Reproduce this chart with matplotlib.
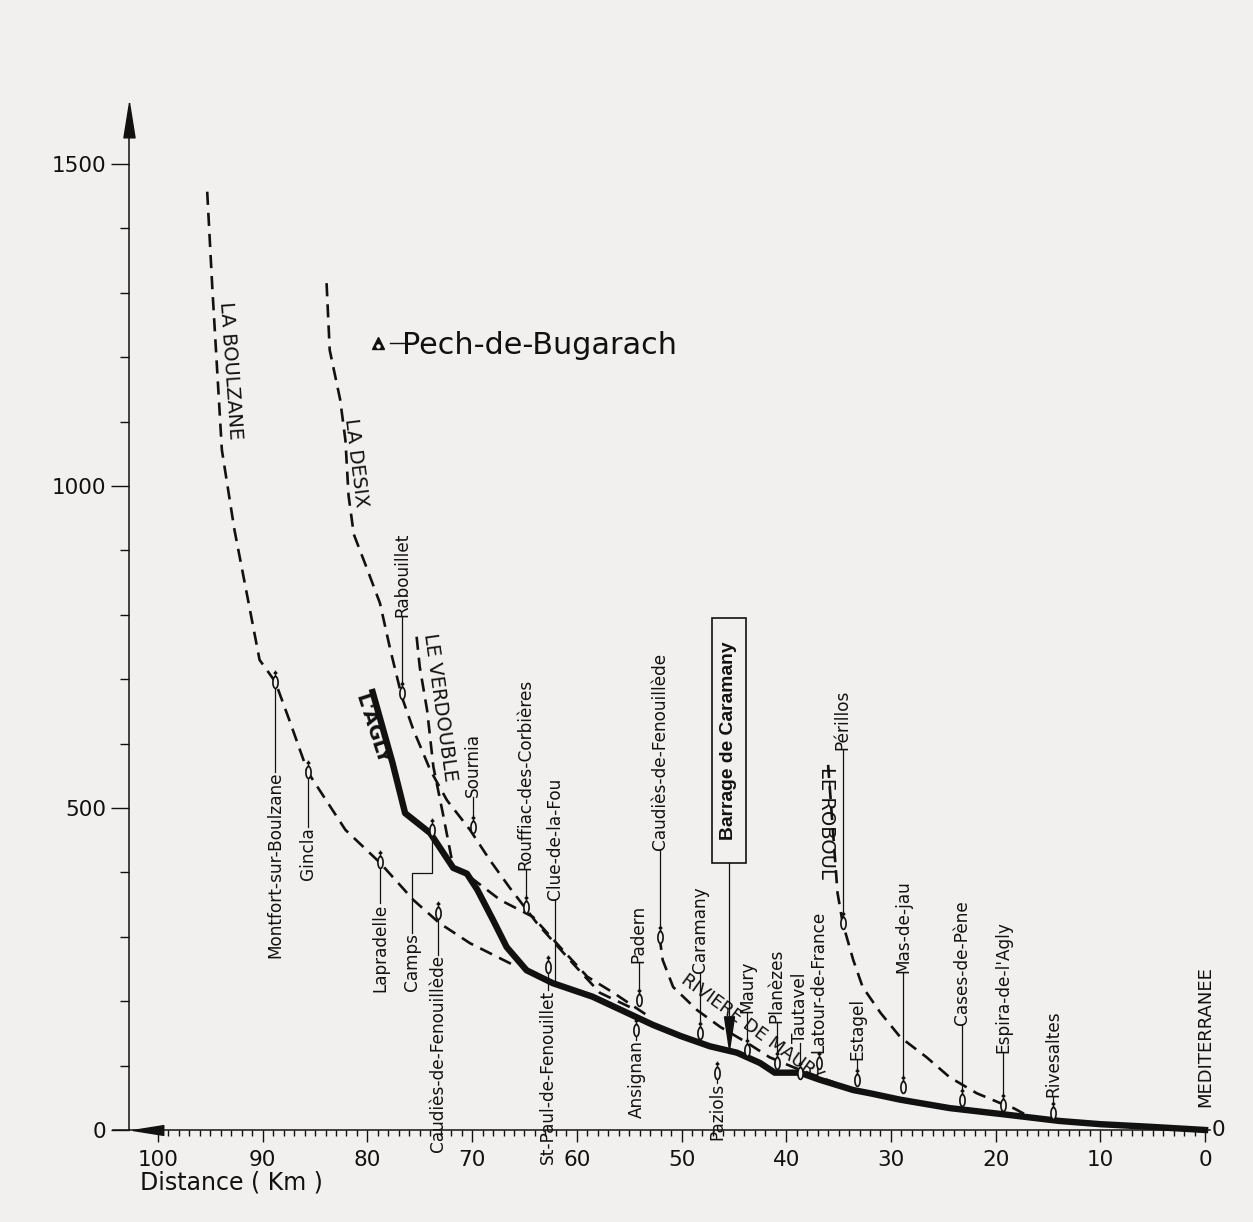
import matplotlib
matplotlib.use('Agg')
import matplotlib.pyplot as plt
from matplotlib.path import Path
from matplotlib.patches import Rectangle
import numpy as np

# ---- river profiles: distance to the sea (km) / altitude (m) ----
agly_km = [79.5, 77.6, 76.4, 74.0, 71.8, 70.5, 69.5, 68.0, 66.7, 64.8, 62.3, 58.5, 55.2,
           52.7, 50.1, 47.3, 44.7, 42.5, 41.1, 38.7, 36.8, 33.6, 32.0, 29.1, 24.4, 19.6,
           13.9, 10.0, 5.3, 0.0]
agly_alt = [680, 570, 492, 461, 407, 398, 373, 326, 284, 248, 228, 207, 182,
            163, 146, 130, 120, 104, 89, 89, 78, 62, 57, 47, 34, 25,
            14, 9, 5, 0]

boulzane_km = [95.3, 94.8, 93.9, 92.7, 91.4, 90.3, 88.8, 87.4, 85.7, 82.1, 78.8, 75.6,
               73.1, 70.2, 66.4, 65.7]
boulzane_alt = [1457, 1304, 1056, 932, 823, 730, 696, 634, 556, 466, 415, 357,
                321, 290, 259, 253]

desix_km = [83.9, 83.6, 82.6, 82.1, 81.8, 81.3, 80.0, 78.8, 77.8, 76.7, 75.6, 74.0, 72.4,
            70.2, 68.3, 66.4, 63.8, 60.4, 57.8, 54.3]
desix_alt = [1315, 1211, 1134, 1071, 985, 925, 870, 818, 745, 672, 621, 559, 512,
             466, 419, 376, 321, 259, 213, 186]

verdouble_km = [75.3, 75.0, 74.3, 73.7, 72.8, 71.8, 70.2, 67.3, 64.2, 61.6, 59.0, 56.5, 53.0]
verdouble_alt = [766, 719, 652, 564, 492, 408, 393, 357, 331, 284, 238, 213, 175]

maury_km = [52.1, 51.8, 50.8, 48.5, 46.3, 43.7, 41.6, 39.4, 36.8, 35.3]
maury_alt = [300, 264, 222, 186, 160, 135, 113, 98, 82, 73]

roboul_km = [36.0, 35.1, 34.6, 33.6, 32.7, 31.0, 29.1, 26.6, 24.4, 21.8, 19.6, 18.3, 16.7, 15.3]
roboul_alt = [567, 368, 321, 264, 222, 182, 144, 113, 82, 57, 42, 34, 20, 17]

# ---- villages ----
towns = ["Montfort-sur-Boulzane", "Gincla", "Lapradelle", "Camps", "Caudiès-de-Fenouillède",
         "Rabouillet", "Sournia", "Rouffiac-des-Corbières", "Clue-de-la-Fou",
         "St-Paul-de-Fenouillet", "Padern", "Ansignan", "Caudiès-de-Fenouillède",
         "Caramany", "Paziols", "Maury", "Planèzes", "Tautavel", "Latour-de-France",
         "Périllos", "Estagel", "Mas-de-jau", "Cases-de-Pène", "Espira-de-l'Agly",
         "Rivesaltes"]
town_km = [88.8, 85.7, 78.8, 73.8, 73.3, 76.7, 69.9, 64.9, 62.1, 62.8, 54.1, 54.3, 52.1,
           48.2, 46.6, 43.7, 40.9, 38.7, 36.9, 34.6, 33.2, 28.8, 23.2, 19.3, 14.5]
town_alt = [696, 556, 416, 466, 337, 679, 471, 346, 225, 253, 202, 155, 300,
            151, 89, 124, 104, 89, 104, 321, 78, 67, 47, 39, 26]
has_marker = [True] * len(towns)
has_marker[8] = False  # Clue-de-la-Fou

# label placement (layout)
label_km = list(town_km)
label_km[3] = 75.7  # Camps, offset label with stepped leader
label_alt = [556, 470, 352, 306, 272, 797, 517, 404, 357, 217, 259, 140, 435,
             244, 73, 182, 166, 135, 120, 590, 109, 244, 163, 120, 51]
label_side = ['below', 'below', 'below', 'below', 'below', 'above', 'above', 'above',
              'above', 'below', 'above', 'below', 'above', 'above', 'below', 'above',
              'above', 'above', 'above', 'above', 'above', 'above', 'above', 'above',
              'above']

pech_km, pech_alt = 79.0, 1222
dam_km, dam_alt = 45.5, 150

ink = '#111111'
bg = '#f1f0ee'
plt.rcParams['font.family'] = ['DejaVu Sans']

fig = plt.figure(figsize=(12.53, 12.22), dpi=100)
fig.patch.set_facecolor(bg)
ax = fig.add_axes([0, 0, 1, 1])
ax.set_facecolor(bg)
ax.set_xlim(115.09, -4.58)
ax.set_ylim(-142.9, 1754.7)

# axes as drawn lines with arrows
for s in ['top', 'right']:
    ax.spines[s].set_visible(False)
ax.spines['left'].set_position(('data', 102.8))
ax.spines['left'].set_bounds(0, 1560)
ax.spines['bottom'].set_position(('data', 0))
ax.spines['bottom'].set_bounds(-0.5, 104.3)
for s in ['left', 'bottom']:
    ax.spines[s].set_linewidth(1.1)
    ax.spines[s].set_color(ink)
ax.set_xticks(range(0, 101, 10))
ax.set_xticks(range(0, 101), minor=True)
ax.set_yticks([0, 500, 1000, 1500])
ax.set_yticks(range(0, 1501, 100), minor=True)
ax.tick_params(axis='x', which='major', length=8.6, width=1, colors=ink, labelsize=15.5, pad=6)
ax.tick_params(axis='x', which='minor', length=4.3, width=1, colors=ink)
ax.tick_params(axis='y', which='major', length=13, width=1, colors=ink, labelsize=15.5, pad=3)
ax.tick_params(axis='y', which='minor', length=6.5, width=1, colors=ink)

arrow_up = Path([(0, 1), (0.32, -1), (-0.32, -1), (0, 1)])
arrow_left = Path([(-1, 0), (1, 0.32), (1, -0.32), (-1, 0)])
ax.plot([102.8], [1569], marker=arrow_up, ms=25, color=ink, clip_on=False)
ax.plot([101.0], [0], marker=arrow_left, ms=22, color=ink, clip_on=False)

ax.text(101.7, -81, 'Distance ( Km )', fontsize=17, ha='left', va='center', color=ink)
ax.text(-0.6, 0, '0', fontsize=15.5, ha='left', va='center', color=ink)

# river lines
dash = (0, (5, 3))
for xs, ys in [(boulzane_km, boulzane_alt), (desix_km, desix_alt),
               (verdouble_km, verdouble_alt), (maury_km, maury_alt),
               (roboul_km, roboul_alt)]:
    ax.plot(xs, ys, color=ink, lw=1.9, ls=dash, zorder=3)
ax.plot(agly_km, agly_alt, color=ink, lw=4.6, solid_joinstyle='round', zorder=4)

# river names
ax.text(93.1, 1180, 'LA BOULZANE', rotation=-86, ha='center', va='center', fontsize=14, color=ink)
ax.text(81.1, 1036, 'LA DESIX', rotation=-83, ha='center', va='center', fontsize=14, color=ink)
ax.text(73.1, 657, 'LE VERDOUBLE', rotation=-82, ha='center', va='center', fontsize=14, color=ink)
ax.text(79.6, 622, "L'AGLY", rotation=-72, ha='center', va='center', fontsize=14,
        fontweight='bold', color=ink)
ax.text(43.3, 158, 'RIVIERE DE MAURY', rotation=-36, ha='center', va='center', fontsize=13, color=ink)
ax.text(36.2, 477, 'LE ROBOUL', rotation=-90, ha='center', va='center', fontsize=14, color=ink)
ax.text(0.0, 36, 'MEDITERRANEE', rotation=90, rotation_mode='anchor', ha='left', va='center',
        fontsize=13, color=ink)

# village leaders and labels
for name, km, alt, lk, la, side in zip(towns, town_km, town_alt, label_km, label_alt, label_side):
    if lk != km:
        mid = alt - 67
        ax.plot([lk, lk, km, km], [la, mid, mid, alt], color=ink, lw=0.9, zorder=2)
    else:
        ax.plot([km, km], [alt, la], color=ink, lw=0.9, zorder=2)
    ha = 'right' if side == 'below' else 'left'
    ax.text(lk, la, name, rotation=90, rotation_mode='anchor', ha=ha, va='center',
            fontsize=12.2, color=ink, zorder=6)

t = np.linspace(0, 2 * np.pi, 41)
ell = np.column_stack([0.22 * np.cos(t), 0.5 * np.sin(t)])
verts = list(map(tuple, ell)) + [(0, 0.5), (0, 1.0), (-0.16, 0.8), (0.16, 0.8)]
codes = [Path.MOVETO] + [Path.LINETO] * (len(ell) - 1) + [Path.MOVETO, Path.LINETO,
                                                          Path.MOVETO, Path.LINETO]
town_marker = Path(verts, codes)
mk_km = [k for k, m in zip(town_km, has_marker) if m]
mk_alt = [a for a, m in zip(town_alt, has_marker) if m]
ax.plot(mk_km, mk_alt, ls='none', marker=town_marker, ms=17, mfc=bg, mec=ink, mew=1.2, zorder=7)

# Pech-de-Bugarach summit
ax.plot([pech_km], [pech_alt], marker='^', ms=9, color=ink, zorder=5)
ax.plot([pech_km], [pech_alt - 4], marker='o', ms=2.2, color='white', zorder=6)
ax.plot([pech_km - 1.2, pech_km - 2.5], [pech_alt, pech_alt], color=ink, lw=1)
ax.text(pech_km - 2.3, pech_alt - 4, 'Pech-de-Bugarach', fontsize=21.8, ha='left', va='center', color=ink)

# Barrage de Caramany
ax.add_patch(Rectangle((47.09, 415), 43.84 - 47.09, 795 - 415, fill=False, ec=ink, lw=1.2, zorder=5))
ax.text(45.47, 605, 'Barrage de Caramany', rotation=90, ha='center', va='center',
        fontsize=13.9, fontweight='bold', family='Liberation Sans', color=ink)
ax.plot([dam_km, dam_km], [415, 175], color=ink, lw=0.9)
dam_tri = Path([(-0.3, 1), (0.3, 1), (0, -1), (-0.3, 1)])
ax.plot([dam_km], [dam_alt], marker=dam_tri, ms=24, color=ink, zorder=6)

fig.savefig('out.png', dpi=100, facecolor=bg)
plt.close(fig)
